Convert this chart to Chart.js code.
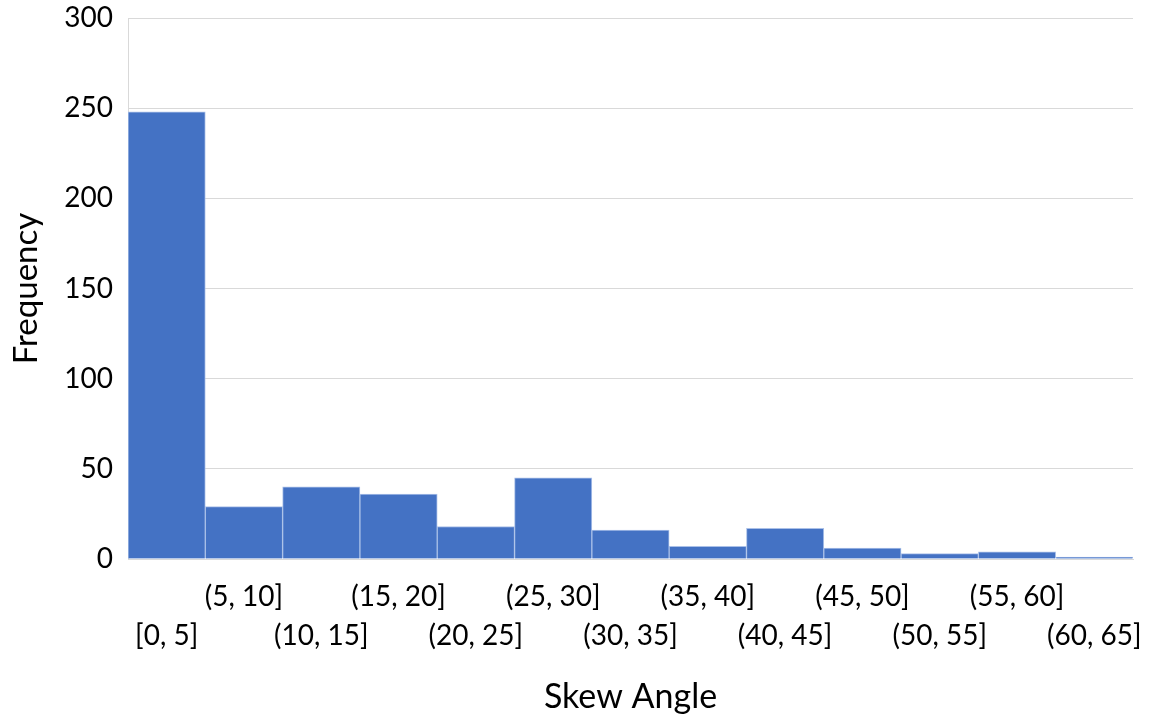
<!DOCTYPE html>
<html>
<head>
<meta charset="utf-8">
<script src="https://cdn.jsdelivr.net/npm/chart.js@4/dist/chart.umd.min.js"></script>
<style>
  html, body { margin: 0; padding: 0; background: #fff; }
  #wrap { width: 1151px; height: 715px; }
</style>
</head>
<body>
<div id="wrap"><canvas id="myChart" width="1151" height="715"></canvas></div>
<script>
// histogram bins and counts
const bins = ['[0, 5]', '(5, 10]', '(10, 15]', '(15, 20]', '(20, 25]', '(25, 30]', '(30, 35]',
              '(35, 40]', '(40, 45]', '(45, 50]', '(50, 55]', '(55, 60]', '(60, 65]'];
const counts = [248, 29, 40, 36, 18, 45, 16, 7, 17, 6, 3, 4, 1];
const yTicks = [0, 50, 100, 150, 200, 250, 300];

const font_name = "Lato, 'Open Sans', sans-serif";

const config = {
  type: 'bar',
  data: {
    labels: bins,
    datasets: [{
      label: 'Frequency',
      data: counts,
      backgroundColor: '#4472C4',
      borderColor: '#aac0e8',
      borderWidth: 1,
      categoryPercentage: 1.0,
      barPercentage: 1.0
    }]
  },
  options: {
    responsive: false,
    animation: false,
    layout: { padding: 0 },
    plugins: {
      legend: { display: false },
      tooltip: { enabled: false }
    },
    scales: {
      x: {
        grid: { display: false, drawTicks: false },
        border: { display: true, color: '#d9d9d9', width: 1 },
        ticks: {
          autoSkip: false,
          maxRotation: 0,
          minRotation: 0,
          padding: 19,
          color: '#000',
          font: { family: font_name, size: 28, lineHeight: 1.39 },
          // stagger labels on two rows like the original
          callback: function(value, index) {
            const lbl = bins[index];
            return index % 2 == 0 ? ['', lbl] : [lbl];
          }
        },
        title: {
          display: true,
          text: 'Skew Angle',
          color: '#000',
          font: { family: font_name, size: 34, lineHeight: 1 },
          padding: { top: 0, bottom: 1 }
        },
        afterFit: function(scale) {
          scale.height = 156;
          scale.paddingLeft = 0;
          scale.paddingRight = 18;
        }
      },
      y: {
        min: 0,
        max: 300,
        grid: { color: '#d9d9d9', lineWidth: 1, drawTicks: false },
        border: { display: true, color: '#d9d9d9', width: 1 },
        afterBuildTicks: function(scale) {
          scale.ticks = yTicks.map(v => ({ value: v }));
        },
        ticks: {
          padding: 15,
          color: '#000',
          font: { family: font_name, size: 28 }
        },
        title: {
          display: true,
          text: 'Frequency',
          color: '#000',
          font: { family: font_name, size: 33 },
          padding: { top: 7, bottom: 0 }
        },
        afterFit: function(scale) {
          scale.width = 128;
          scale.paddingTop = 18;
          scale.paddingBottom = 0;
        }
      }
    }
  }
};

const myChart = new Chart(document.getElementById('myChart'), config);
</script>
</body>
</html>
